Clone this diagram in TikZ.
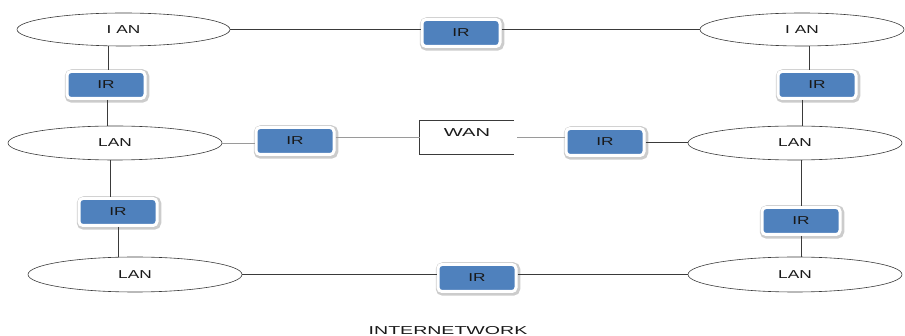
\documentclass[tikz,border=0pt]{standalone}
\usepackage{fontspec}
\setmainfont{Liberation Sans}
\usepackage{graphicx}
\usetikzlibrary{shapes.geometric}
\definecolor{irblue}{HTML}{4F81BD}
\definecolor{linedark}{HTML}{3A3A3A}
\definecolor{linelight}{HTML}{9A9A9A}
% horizontally stretched label text
\newcommand{\wide}[2][1.5]{\scalebox{#1}[1]{#2}}

\begin{document}
\begin{tikzpicture}[x=1pt,y=-1pt,
  every node/.style={font=\fontsize{11.5}{13}\selectfont, text=black!90, inner sep=0pt},
  lanshape/.style={ellipse, draw=linedark, line width=0.6pt, fill=white,
    minimum width=214pt, minimum height=34pt},
  irbox/.style={rectangle, rounded corners=4pt, minimum width=78pt, minimum height=27pt,
    fill=irblue, draw=white, line width=3pt,
    preaction={draw=black!20, line width=6.5pt, transform canvas={shift={(1pt,-1pt)}}}},
  link/.style={draw=linedark, line width=0.7pt},
  linkgray/.style={draw=linelight, line width=0.8pt},
]
\useasboundingbox (0,0) rectangle (905,336);
\clip (0,0) rectangle (905,336);

% networks
\node[lanshape, minimum width=213pt, minimum height=33pt] (e1) at (123.5,29.5) {\wide{I AN}};
\node[lanshape, minimum width=204pt, minimum height=33pt] (e2) at (802,29.5) {\wide{I AN}};
\node[lanshape] (e3) at (115,143) {\wide{LAN}};
\node[lanshape] (e4) at (795,143) {\wide{LAN}};
\node[lanshape, minimum height=35pt] (e5) at (135,274.5) {\wide{LAN}};
\node[lanshape, minimum height=35pt] (e6) at (795,274.5) {\wide{LAN}};

% wide area network: box open on its right side
\node[minimum width=94pt, minimum height=33pt] (wan) at (467,137.5) {};
\node (wantext) at ([yshift=5pt]wan.center) {\wide[1.75]{WAN}};
\draw[draw=linedark, line width=0.7pt] (wan.north east) -- (wan.north west) -- (wan.south west) -- (wan.south east);

% routers
\node[irbox] (r1) at (461,33) {\wide{IR}};
\node[irbox] (r2) at (106,85) {\wide{IR}};
\node[irbox] (r3) at (817,85) {\wide{IR}};
\node[irbox] (r4) at (295,141) {\wide{IR}};
\node[irbox] (r5) at (605,142) {\wide{IR}};
\node[irbox] (r6) at (118,212) {\wide{IR}};
\node[irbox] (r7) at (801,221) {\wide{IR}};
\node[irbox] (r8) at (477,278) {\wide{IR}};

% top row
\draw[link] (e1.east) -- (r1.west |- e1.east);
\draw[link] (r1.east |- e2.west) -- (e2.west);
% left column, upper
\draw[link] ([xshift=2pt]r2.north) -- ([xshift=2pt]r2.north |- e1.south);
\draw[link] ([xshift=1pt]r2.south) -- ([xshift=1pt]r2.south |- e3.north);
% right column, upper
\draw[link] ([xshift=-8pt]r3.north) -- ([xshift=-8pt]r3.north |- e2.south);
\draw[link] ([xshift=-15pt]r3.south) -- ([xshift=-15pt]r3.south |- e4.north);
% middle row through the WAN
\draw[linkgray] (e3.east) -- (e3.east -| r4.west);
\draw[linkgray] (r4.east |- wan.west) -- (wan.west);
\draw[linkgray] ([xshift=3pt]wan.east) -- (wan.east -| r5.west);
\draw[link] (r5.east) -- (r5.east -| e4.west);
% left column, lower
\draw[link] ([xshift=-8pt]r6.north) -- ([xshift=-8pt]r6.north |- e3.south);
\draw[link] (r6.south) -- (r6.south |- e5.north);
% right column, lower
\draw[link] (r7.north) -- (r7.north |- e4.south);
\draw[link] (r7.south) -- (r7.south |- e6.north);
% bottom row
\draw[link] (e5.east) -- (e5.east -| r8.west);
\draw[link] (r8.east |- e6.west) -- (e6.west);

% caption
\node[anchor=base] (caption) at (448,335) {\wide[1.7]{INTERNETWORK}};
\end{tikzpicture}
\end{document}
